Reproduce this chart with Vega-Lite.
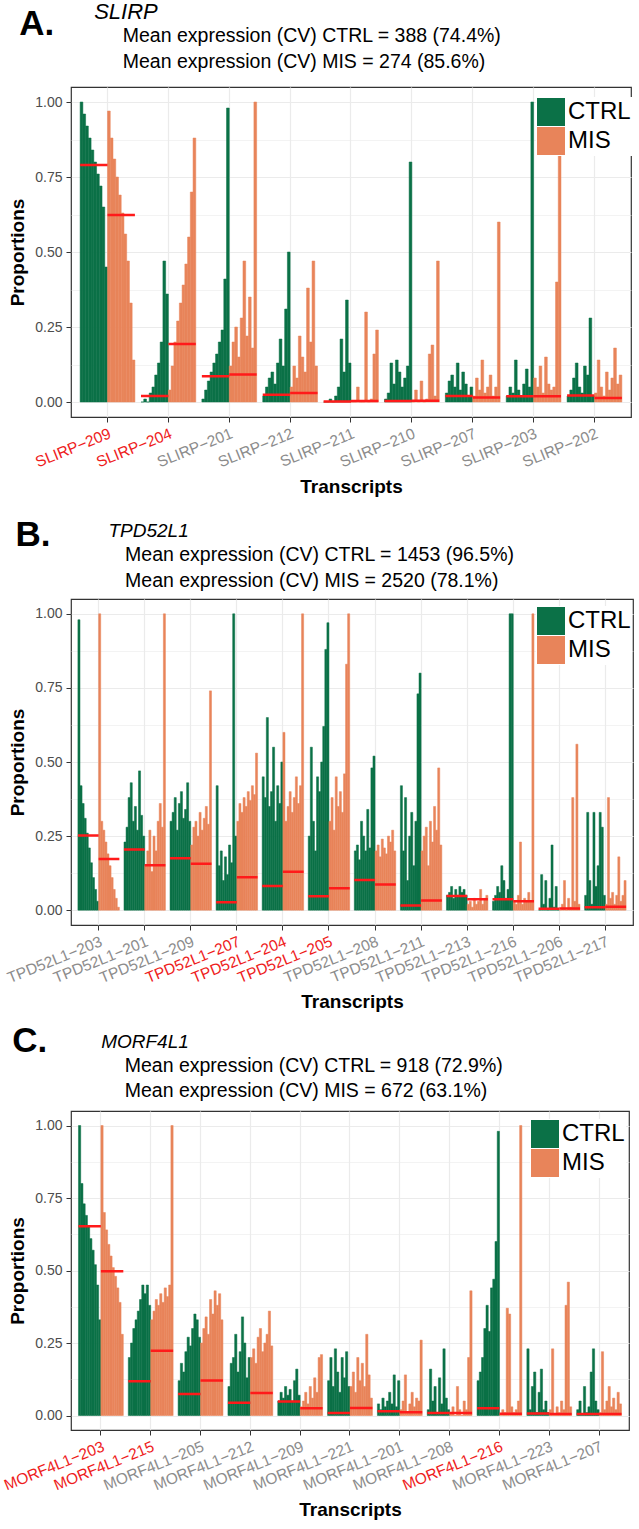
{
"$schema":"https://vega.github.io/schema/vega-lite/v6.json",
"padding":{"top":0,"left":1,"right":4,"bottom":2},
"spacing":20,
"config":{
 "font":"Liberation Sans",
 "view":{"stroke":"#333333","strokeWidth":1.2},
 "axis":{"domain":false,"tickColor":"#333333","tickSize":5,"gridColor":"#EBEBEB","gridWidth":1.2,"titleFontWeight":"bold","titleColor":"black","labelFont":"Liberation Sans","titleFont":"Liberation Sans"},
 "title":{"anchor":"start","frame":"bounds","color":"black","fontWeight":"normal","font":"Liberation Sans"},
 "legend":{"title":null,"orient":"none","symbolType":"square","symbolSize":784,"symbolStrokeWidth":0,"symbolOpacity":1,"labelFontSize":24,"labelColor":"black","labelOffset":3,"rowPadding":1,"padding":1,"fillColor":"white","labelFont":"Liberation Sans"}
},
"resolve":{"legend":{"color":"independent"}},
"datasets":{
"am":[{"t":"SLIRP-209","c":"CTRL","m":0.79},{"t":"SLIRP-209","c":"MIS","m":0.623},{"t":"SLIRP-204","c":"CTRL","m":0.02},{"t":"SLIRP-204","c":"MIS","m":0.193},{"t":"SLIRP-201","c":"CTRL","m":0.086},{"t":"SLIRP-201","c":"MIS","m":0.092},{"t":"SLIRP-212","c":"CTRL","m":0.024},{"t":"SLIRP-212","c":"MIS","m":0.03},{"t":"SLIRP-211","c":"CTRL","m":0.002},{"t":"SLIRP-211","c":"MIS","m":0.003},{"t":"SLIRP-210","c":"CTRL","m":0.003},{"t":"SLIRP-210","c":"MIS","m":0.004},{"t":"SLIRP-207","c":"CTRL","m":0.02},{"t":"SLIRP-207","c":"MIS","m":0.015},{"t":"SLIRP-203","c":"CTRL","m":0.019},{"t":"SLIRP-203","c":"MIS","m":0.019},{"t":"SLIRP-202","c":"CTRL","m":0.022},{"t":"SLIRP-202","c":"MIS","m":0.013}],
"bm":[{"t":"TPD52L1-203","c":"CTRL","m":0.252},{"t":"TPD52L1-203","c":"MIS","m":0.173},{"t":"TPD52L1-201","c":"CTRL","m":0.205},{"t":"TPD52L1-201","c":"MIS","m":0.152},{"t":"TPD52L1-209","c":"CTRL","m":0.175},{"t":"TPD52L1-209","c":"MIS","m":0.157},{"t":"TPD52L1-207","c":"CTRL","m":0.027},{"t":"TPD52L1-207","c":"MIS","m":0.111},{"t":"TPD52L1-204","c":"CTRL","m":0.082},{"t":"TPD52L1-204","c":"MIS","m":0.13},{"t":"TPD52L1-205","c":"CTRL","m":0.047},{"t":"TPD52L1-205","c":"MIS","m":0.074},{"t":"TPD52L1-208","c":"CTRL","m":0.102},{"t":"TPD52L1-208","c":"MIS","m":0.087},{"t":"TPD52L1-211","c":"CTRL","m":0.016},{"t":"TPD52L1-211","c":"MIS","m":0.033},{"t":"TPD52L1-213","c":"CTRL","m":0.048},{"t":"TPD52L1-213","c":"MIS","m":0.037},{"t":"TPD52L1-216","c":"CTRL","m":0.037},{"t":"TPD52L1-216","c":"MIS","m":0.03},{"t":"TPD52L1-206","c":"CTRL","m":0.005},{"t":"TPD52L1-206","c":"MIS","m":0.006},{"t":"TPD52L1-217","c":"CTRL","m":0.01},{"t":"TPD52L1-217","c":"MIS","m":0.012}],
"cm":[{"t":"MORF4L1-203","c":"CTRL","m":0.653},{"t":"MORF4L1-203","c":"MIS","m":0.497},{"t":"MORF4L1-215","c":"CTRL","m":0.118},{"t":"MORF4L1-215","c":"MIS","m":0.223},{"t":"MORF4L1-205","c":"CTRL","m":0.074},{"t":"MORF4L1-205","c":"MIS","m":0.121},{"t":"MORF4L1-212","c":"CTRL","m":0.044},{"t":"MORF4L1-212","c":"MIS","m":0.078},{"t":"MORF4L1-209","c":"CTRL","m":0.048},{"t":"MORF4L1-209","c":"MIS","m":0.025},{"t":"MORF4L1-221","c":"CTRL","m":0.009},{"t":"MORF4L1-221","c":"MIS","m":0.026},{"t":"MORF4L1-201","c":"CTRL","m":0.015},{"t":"MORF4L1-201","c":"MIS","m":0.011},{"t":"MORF4L1-208","c":"CTRL","m":0.009},{"t":"MORF4L1-208","c":"MIS","m":0.009},{"t":"MORF4L1-216","c":"CTRL","m":0.025},{"t":"MORF4L1-216","c":"MIS","m":0.006},{"t":"MORF4L1-223","c":"CTRL","m":0.007},{"t":"MORF4L1-223","c":"MIS","m":0.005},{"t":"MORF4L1-207","c":"CTRL","m":0.005},{"t":"MORF4L1-207","c":"MIS","m":0.005}],
"a":[
{"t":"SLIRP-209","c":"CTRL","k":1,"v":1},{"t":"SLIRP-209","c":"CTRL","k":2,"v":0.96},{"t":"SLIRP-209","c":"CTRL","k":3,"v":0.92},{"t":"SLIRP-209","c":"CTRL","k":4,"v":0.88},{"t":"SLIRP-209","c":"CTRL","k":5,"v":0.84},{"t":"SLIRP-209","c":"CTRL","k":6,"v":0.8},{"t":"SLIRP-209","c":"CTRL","k":7,"v":0.76},{"t":"SLIRP-209","c":"CTRL","k":8,"v":0.72},{"t":"SLIRP-209","c":"CTRL","k":9,"v":0.65},{"t":"SLIRP-209","c":"CTRL","k":10,"v":0.45},
{"t":"SLIRP-209","c":"MIS","k":11,"v":0.97},{"t":"SLIRP-209","c":"MIS","k":12,"v":0.88},{"t":"SLIRP-209","c":"MIS","k":13,"v":0.81},{"t":"SLIRP-209","c":"MIS","k":14,"v":0.75},{"t":"SLIRP-209","c":"MIS","k":15,"v":0.69},{"t":"SLIRP-209","c":"MIS","k":16,"v":0.63},{"t":"SLIRP-209","c":"MIS","k":17,"v":0.56},{"t":"SLIRP-209","c":"MIS","k":18,"v":0.47},{"t":"SLIRP-209","c":"MIS","k":19,"v":0.33},{"t":"SLIRP-209","c":"MIS","k":20,"v":0.14},
{"t":"SLIRP-204","c":"CTRL","k":1,"v":0},{"t":"SLIRP-204","c":"CTRL","k":2,"v":0.01},{"t":"SLIRP-204","c":"CTRL","k":3,"v":0},{"t":"SLIRP-204","c":"CTRL","k":4,"v":0.03},{"t":"SLIRP-204","c":"CTRL","k":5,"v":0.05},{"t":"SLIRP-204","c":"CTRL","k":6,"v":0.09},{"t":"SLIRP-204","c":"CTRL","k":7,"v":0.13},{"t":"SLIRP-204","c":"CTRL","k":8,"v":0.2},{"t":"SLIRP-204","c":"CTRL","k":9,"v":0.47},{"t":"SLIRP-204","c":"CTRL","k":10,"v":0.36},
{"t":"SLIRP-204","c":"MIS","k":11,"v":0.04},{"t":"SLIRP-204","c":"MIS","k":12,"v":0.12},{"t":"SLIRP-204","c":"MIS","k":13,"v":0.2},{"t":"SLIRP-204","c":"MIS","k":14,"v":0.27},{"t":"SLIRP-204","c":"MIS","k":15,"v":0.33},{"t":"SLIRP-204","c":"MIS","k":16,"v":0.39},{"t":"SLIRP-204","c":"MIS","k":17,"v":0.46},{"t":"SLIRP-204","c":"MIS","k":18,"v":0.55},{"t":"SLIRP-204","c":"MIS","k":19,"v":0.7},{"t":"SLIRP-204","c":"MIS","k":20,"v":0.88},
{"t":"SLIRP-201","c":"CTRL","k":1,"v":0.01},{"t":"SLIRP-201","c":"CTRL","k":2,"v":0.04},{"t":"SLIRP-201","c":"CTRL","k":3,"v":0.07},{"t":"SLIRP-201","c":"CTRL","k":4,"v":0.1},{"t":"SLIRP-201","c":"CTRL","k":5,"v":0.13},{"t":"SLIRP-201","c":"CTRL","k":6,"v":0.16},{"t":"SLIRP-201","c":"CTRL","k":7,"v":0.2},{"t":"SLIRP-201","c":"CTRL","k":8,"v":0.24},{"t":"SLIRP-201","c":"CTRL","k":9,"v":0.41},{"t":"SLIRP-201","c":"CTRL","k":10,"v":0.98},
{"t":"SLIRP-201","c":"MIS","k":11,"v":0.12},{"t":"SLIRP-201","c":"MIS","k":12,"v":0.2},{"t":"SLIRP-201","c":"MIS","k":13,"v":0.25},{"t":"SLIRP-201","c":"MIS","k":14,"v":0.15},{"t":"SLIRP-201","c":"MIS","k":15,"v":0.28},{"t":"SLIRP-201","c":"MIS","k":16,"v":0.47},{"t":"SLIRP-201","c":"MIS","k":17,"v":0.22},{"t":"SLIRP-201","c":"MIS","k":18,"v":0.35},{"t":"SLIRP-201","c":"MIS","k":19,"v":0.18},{"t":"SLIRP-201","c":"MIS","k":20,"v":1},
{"t":"SLIRP-212","c":"CTRL","k":1,"v":0.02},{"t":"SLIRP-212","c":"CTRL","k":2,"v":0.05},{"t":"SLIRP-212","c":"CTRL","k":3,"v":0.08},{"t":"SLIRP-212","c":"CTRL","k":4,"v":0.1},{"t":"SLIRP-212","c":"CTRL","k":5,"v":0.06},{"t":"SLIRP-212","c":"CTRL","k":6,"v":0.13},{"t":"SLIRP-212","c":"CTRL","k":7,"v":0.21},{"t":"SLIRP-212","c":"CTRL","k":8,"v":0.12},{"t":"SLIRP-212","c":"CTRL","k":9,"v":0.31},{"t":"SLIRP-212","c":"CTRL","k":10,"v":0.5},
{"t":"SLIRP-212","c":"MIS","k":11,"v":0.05},{"t":"SLIRP-212","c":"MIS","k":12,"v":0.12},{"t":"SLIRP-212","c":"MIS","k":13,"v":0.08},{"t":"SLIRP-212","c":"MIS","k":14,"v":0.22},{"t":"SLIRP-212","c":"MIS","k":15,"v":0.15},{"t":"SLIRP-212","c":"MIS","k":16,"v":0.1},{"t":"SLIRP-212","c":"MIS","k":17,"v":0.38},{"t":"SLIRP-212","c":"MIS","k":18,"v":0.2},{"t":"SLIRP-212","c":"MIS","k":19,"v":0.47},{"t":"SLIRP-212","c":"MIS","k":20,"v":0.12},
{"t":"SLIRP-211","c":"CTRL","k":1,"v":0},{"t":"SLIRP-211","c":"CTRL","k":2,"v":0},{"t":"SLIRP-211","c":"CTRL","k":3,"v":0.01},{"t":"SLIRP-211","c":"CTRL","k":4,"v":0},{"t":"SLIRP-211","c":"CTRL","k":5,"v":0.02},{"t":"SLIRP-211","c":"CTRL","k":6,"v":0.05},{"t":"SLIRP-211","c":"CTRL","k":7,"v":0.21},{"t":"SLIRP-211","c":"CTRL","k":8,"v":0.1},{"t":"SLIRP-211","c":"CTRL","k":9,"v":0.34},{"t":"SLIRP-211","c":"CTRL","k":10,"v":0.13},
{"t":"SLIRP-211","c":"MIS","k":11,"v":0},{"t":"SLIRP-211","c":"MIS","k":12,"v":0},{"t":"SLIRP-211","c":"MIS","k":13,"v":0.05},{"t":"SLIRP-211","c":"MIS","k":14,"v":0},{"t":"SLIRP-211","c":"MIS","k":15,"v":0},{"t":"SLIRP-211","c":"MIS","k":16,"v":0.3},{"t":"SLIRP-211","c":"MIS","k":17,"v":0},{"t":"SLIRP-211","c":"MIS","k":18,"v":0.01},{"t":"SLIRP-211","c":"MIS","k":19,"v":0.16},{"t":"SLIRP-211","c":"MIS","k":20,"v":0.24},
{"t":"SLIRP-210","c":"CTRL","k":1,"v":0.01},{"t":"SLIRP-210","c":"CTRL","k":2,"v":0.03},{"t":"SLIRP-210","c":"CTRL","k":3,"v":0.13},{"t":"SLIRP-210","c":"CTRL","k":4,"v":0.06},{"t":"SLIRP-210","c":"CTRL","k":5,"v":0.14},{"t":"SLIRP-210","c":"CTRL","k":6,"v":0.1},{"t":"SLIRP-210","c":"CTRL","k":7,"v":0.05},{"t":"SLIRP-210","c":"CTRL","k":8,"v":0.08},{"t":"SLIRP-210","c":"CTRL","k":9,"v":0.12},{"t":"SLIRP-210","c":"CTRL","k":10,"v":0.8},
{"t":"SLIRP-210","c":"MIS","k":11,"v":0},{"t":"SLIRP-210","c":"MIS","k":12,"v":0.04},{"t":"SLIRP-210","c":"MIS","k":13,"v":0},{"t":"SLIRP-210","c":"MIS","k":14,"v":0.07},{"t":"SLIRP-210","c":"MIS","k":15,"v":0},{"t":"SLIRP-210","c":"MIS","k":16,"v":0.01},{"t":"SLIRP-210","c":"MIS","k":17,"v":0.16},{"t":"SLIRP-210","c":"MIS","k":18,"v":0.19},{"t":"SLIRP-210","c":"MIS","k":19,"v":0.02},{"t":"SLIRP-210","c":"MIS","k":20,"v":0.47},
{"t":"SLIRP-207","c":"CTRL","k":1,"v":0.03},{"t":"SLIRP-207","c":"CTRL","k":2,"v":0.07},{"t":"SLIRP-207","c":"CTRL","k":3,"v":0.09},{"t":"SLIRP-207","c":"CTRL","k":4,"v":0.05},{"t":"SLIRP-207","c":"CTRL","k":5,"v":0.13},{"t":"SLIRP-207","c":"CTRL","k":6,"v":0.04},{"t":"SLIRP-207","c":"CTRL","k":7,"v":0.1},{"t":"SLIRP-207","c":"CTRL","k":8,"v":0.06},{"t":"SLIRP-207","c":"CTRL","k":9,"v":0.02},{"t":"SLIRP-207","c":"CTRL","k":10,"v":0.05},
{"t":"SLIRP-207","c":"MIS","k":11,"v":0.02},{"t":"SLIRP-207","c":"MIS","k":12,"v":0.08},{"t":"SLIRP-207","c":"MIS","k":13,"v":0.04},{"t":"SLIRP-207","c":"MIS","k":14,"v":0.14},{"t":"SLIRP-207","c":"MIS","k":15,"v":0.03},{"t":"SLIRP-207","c":"MIS","k":16,"v":0.05},{"t":"SLIRP-207","c":"MIS","k":17,"v":0.09},{"t":"SLIRP-207","c":"MIS","k":18,"v":0.02},{"t":"SLIRP-207","c":"MIS","k":19,"v":0.05},{"t":"SLIRP-207","c":"MIS","k":20,"v":0.6},
{"t":"SLIRP-203","c":"CTRL","k":1,"v":0.02},{"t":"SLIRP-203","c":"CTRL","k":2,"v":0.05},{"t":"SLIRP-203","c":"CTRL","k":3,"v":0.03},{"t":"SLIRP-203","c":"CTRL","k":4,"v":0.14},{"t":"SLIRP-203","c":"CTRL","k":5,"v":0.04},{"t":"SLIRP-203","c":"CTRL","k":6,"v":0.02},{"t":"SLIRP-203","c":"CTRL","k":7,"v":0.06},{"t":"SLIRP-203","c":"CTRL","k":8,"v":0.11},{"t":"SLIRP-203","c":"CTRL","k":9,"v":0.05},{"t":"SLIRP-203","c":"CTRL","k":10,"v":1},
{"t":"SLIRP-203","c":"MIS","k":11,"v":0.08},{"t":"SLIRP-203","c":"MIS","k":12,"v":0.05},{"t":"SLIRP-203","c":"MIS","k":13,"v":0.12},{"t":"SLIRP-203","c":"MIS","k":14,"v":0.03},{"t":"SLIRP-203","c":"MIS","k":15,"v":0.15},{"t":"SLIRP-203","c":"MIS","k":16,"v":0.06},{"t":"SLIRP-203","c":"MIS","k":17,"v":0.04},{"t":"SLIRP-203","c":"MIS","k":18,"v":0.05},{"t":"SLIRP-203","c":"MIS","k":19,"v":0.4},{"t":"SLIRP-203","c":"MIS","k":20,"v":0.98},
{"t":"SLIRP-202","c":"CTRL","k":1,"v":0.02},{"t":"SLIRP-202","c":"CTRL","k":2,"v":0.04},{"t":"SLIRP-202","c":"CTRL","k":3,"v":0.08},{"t":"SLIRP-202","c":"CTRL","k":4,"v":0.13},{"t":"SLIRP-202","c":"CTRL","k":5,"v":0.05},{"t":"SLIRP-202","c":"CTRL","k":6,"v":0.03},{"t":"SLIRP-202","c":"CTRL","k":7,"v":0.12},{"t":"SLIRP-202","c":"CTRL","k":8,"v":0.09},{"t":"SLIRP-202","c":"CTRL","k":9,"v":0.28},{"t":"SLIRP-202","c":"CTRL","k":10,"v":0.02},
{"t":"SLIRP-202","c":"MIS","k":11,"v":0.03},{"t":"SLIRP-202","c":"MIS","k":12,"v":0.14},{"t":"SLIRP-202","c":"MIS","k":13,"v":0.05},{"t":"SLIRP-202","c":"MIS","k":14,"v":0.02},{"t":"SLIRP-202","c":"MIS","k":15,"v":0.1},{"t":"SLIRP-202","c":"MIS","k":16,"v":0.04},{"t":"SLIRP-202","c":"MIS","k":17,"v":0.08},{"t":"SLIRP-202","c":"MIS","k":18,"v":0.18},{"t":"SLIRP-202","c":"MIS","k":19,"v":0.06},{"t":"SLIRP-202","c":"MIS","k":20,"v":0.09}
],
"b":[
{"t":"TPD52L1-203","c":"CTRL","k":1,"v":0.98},{"t":"TPD52L1-203","c":"CTRL","k":2,"v":0.42},{"t":"TPD52L1-203","c":"CTRL","k":3,"v":0.36},{"t":"TPD52L1-203","c":"CTRL","k":4,"v":0.31},{"t":"TPD52L1-203","c":"CTRL","k":5,"v":0.26},{"t":"TPD52L1-203","c":"CTRL","k":6,"v":0.21},{"t":"TPD52L1-203","c":"CTRL","k":7,"v":0.16},{"t":"TPD52L1-203","c":"CTRL","k":8,"v":0.11},{"t":"TPD52L1-203","c":"CTRL","k":9,"v":0.07},{"t":"TPD52L1-203","c":"CTRL","k":10,"v":0.03},
{"t":"TPD52L1-203","c":"MIS","k":11,"v":1},{"t":"TPD52L1-203","c":"MIS","k":12,"v":0.3},{"t":"TPD52L1-203","c":"MIS","k":13,"v":0.27},{"t":"TPD52L1-203","c":"MIS","k":14,"v":0.23},{"t":"TPD52L1-203","c":"MIS","k":15,"v":0.19},{"t":"TPD52L1-203","c":"MIS","k":16,"v":0.15},{"t":"TPD52L1-203","c":"MIS","k":17,"v":0.11},{"t":"TPD52L1-203","c":"MIS","k":18,"v":0.07},{"t":"TPD52L1-203","c":"MIS","k":19,"v":0.04},{"t":"TPD52L1-203","c":"MIS","k":20,"v":0.01},
{"t":"TPD52L1-201","c":"CTRL","k":1,"v":0.23},{"t":"TPD52L1-201","c":"CTRL","k":2,"v":0.28},{"t":"TPD52L1-201","c":"CTRL","k":3,"v":0.38},{"t":"TPD52L1-201","c":"CTRL","k":4,"v":0.43},{"t":"TPD52L1-201","c":"CTRL","k":5,"v":0.3},{"t":"TPD52L1-201","c":"CTRL","k":6,"v":0.35},{"t":"TPD52L1-201","c":"CTRL","k":7,"v":0.27},{"t":"TPD52L1-201","c":"CTRL","k":8,"v":0.47},{"t":"TPD52L1-201","c":"CTRL","k":9,"v":0.32},{"t":"TPD52L1-201","c":"CTRL","k":10,"v":0.25},
{"t":"TPD52L1-201","c":"MIS","k":11,"v":0.15},{"t":"TPD52L1-201","c":"MIS","k":12,"v":0.2},{"t":"TPD52L1-201","c":"MIS","k":13,"v":0.27},{"t":"TPD52L1-201","c":"MIS","k":14,"v":0.13},{"t":"TPD52L1-201","c":"MIS","k":15,"v":0.25},{"t":"TPD52L1-201","c":"MIS","k":16,"v":0.2},{"t":"TPD52L1-201","c":"MIS","k":17,"v":0.3},{"t":"TPD52L1-201","c":"MIS","k":18,"v":0.36},{"t":"TPD52L1-201","c":"MIS","k":19,"v":0.28},{"t":"TPD52L1-201","c":"MIS","k":20,"v":1},
{"t":"TPD52L1-209","c":"CTRL","k":1,"v":0.3},{"t":"TPD52L1-209","c":"CTRL","k":2,"v":0.33},{"t":"TPD52L1-209","c":"CTRL","k":3,"v":0.38},{"t":"TPD52L1-209","c":"CTRL","k":4,"v":0.27},{"t":"TPD52L1-209","c":"CTRL","k":5,"v":0.36},{"t":"TPD52L1-209","c":"CTRL","k":6,"v":0.4},{"t":"TPD52L1-209","c":"CTRL","k":7,"v":0.31},{"t":"TPD52L1-209","c":"CTRL","k":8,"v":0.34},{"t":"TPD52L1-209","c":"CTRL","k":9,"v":0.43},{"t":"TPD52L1-209","c":"CTRL","k":10,"v":0.3},
{"t":"TPD52L1-209","c":"MIS","k":11,"v":0.22},{"t":"TPD52L1-209","c":"MIS","k":12,"v":0.28},{"t":"TPD52L1-209","c":"MIS","k":13,"v":0.3},{"t":"TPD52L1-209","c":"MIS","k":14,"v":0.25},{"t":"TPD52L1-209","c":"MIS","k":15,"v":0.33},{"t":"TPD52L1-209","c":"MIS","k":16,"v":0.27},{"t":"TPD52L1-209","c":"MIS","k":17,"v":0.31},{"t":"TPD52L1-209","c":"MIS","k":18,"v":0.35},{"t":"TPD52L1-209","c":"MIS","k":19,"v":0.29},{"t":"TPD52L1-209","c":"MIS","k":20,"v":0.74},
{"t":"TPD52L1-207","c":"CTRL","k":1,"v":0.42},{"t":"TPD52L1-207","c":"CTRL","k":2,"v":0.15},{"t":"TPD52L1-207","c":"CTRL","k":3,"v":0.2},{"t":"TPD52L1-207","c":"CTRL","k":4,"v":0.1},{"t":"TPD52L1-207","c":"CTRL","k":5,"v":0.18},{"t":"TPD52L1-207","c":"CTRL","k":6,"v":0.12},{"t":"TPD52L1-207","c":"CTRL","k":7,"v":0.22},{"t":"TPD52L1-207","c":"CTRL","k":8,"v":0.16},{"t":"TPD52L1-207","c":"CTRL","k":9,"v":1},{"t":"TPD52L1-207","c":"CTRL","k":10,"v":0.25},
{"t":"TPD52L1-207","c":"MIS","k":11,"v":0.3},{"t":"TPD52L1-207","c":"MIS","k":12,"v":0.36},{"t":"TPD52L1-207","c":"MIS","k":13,"v":0.33},{"t":"TPD52L1-207","c":"MIS","k":14,"v":0.38},{"t":"TPD52L1-207","c":"MIS","k":15,"v":0.35},{"t":"TPD52L1-207","c":"MIS","k":16,"v":0.4},{"t":"TPD52L1-207","c":"MIS","k":17,"v":0.37},{"t":"TPD52L1-207","c":"MIS","k":18,"v":0.42},{"t":"TPD52L1-207","c":"MIS","k":19,"v":0.39},{"t":"TPD52L1-207","c":"MIS","k":20,"v":0.53},
{"t":"TPD52L1-204","c":"CTRL","k":1,"v":0.45},{"t":"TPD52L1-204","c":"CTRL","k":2,"v":0.38},{"t":"TPD52L1-204","c":"CTRL","k":3,"v":0.65},{"t":"TPD52L1-204","c":"CTRL","k":4,"v":0.35},{"t":"TPD52L1-204","c":"CTRL","k":5,"v":0.4},{"t":"TPD52L1-204","c":"CTRL","k":6,"v":0.55},{"t":"TPD52L1-204","c":"CTRL","k":7,"v":0.3},{"t":"TPD52L1-204","c":"CTRL","k":8,"v":0.42},{"t":"TPD52L1-204","c":"CTRL","k":9,"v":0.36},{"t":"TPD52L1-204","c":"CTRL","k":10,"v":0.5},
{"t":"TPD52L1-204","c":"MIS","k":11,"v":0.6},{"t":"TPD52L1-204","c":"MIS","k":12,"v":0.3},{"t":"TPD52L1-204","c":"MIS","k":13,"v":0.35},{"t":"TPD52L1-204","c":"MIS","k":14,"v":0.4},{"t":"TPD52L1-204","c":"MIS","k":15,"v":0.33},{"t":"TPD52L1-204","c":"MIS","k":16,"v":0.38},{"t":"TPD52L1-204","c":"MIS","k":17,"v":0.45},{"t":"TPD52L1-204","c":"MIS","k":18,"v":0.36},{"t":"TPD52L1-204","c":"MIS","k":19,"v":0.42},{"t":"TPD52L1-204","c":"MIS","k":20,"v":1},
{"t":"TPD52L1-205","c":"CTRL","k":1,"v":0.25},{"t":"TPD52L1-205","c":"CTRL","k":2,"v":0.55},{"t":"TPD52L1-205","c":"CTRL","k":3,"v":0.3},{"t":"TPD52L1-205","c":"CTRL","k":4,"v":0.2},{"t":"TPD52L1-205","c":"CTRL","k":5,"v":0.45},{"t":"TPD52L1-205","c":"CTRL","k":6,"v":0.4},{"t":"TPD52L1-205","c":"CTRL","k":7,"v":0.5},{"t":"TPD52L1-205","c":"CTRL","k":8,"v":0.62},{"t":"TPD52L1-205","c":"CTRL","k":9,"v":0.88},{"t":"TPD52L1-205","c":"CTRL","k":10,"v":0.97},
{"t":"TPD52L1-205","c":"MIS","k":11,"v":0.3},{"t":"TPD52L1-205","c":"MIS","k":12,"v":0.38},{"t":"TPD52L1-205","c":"MIS","k":13,"v":0.27},{"t":"TPD52L1-205","c":"MIS","k":14,"v":0.45},{"t":"TPD52L1-205","c":"MIS","k":15,"v":0.35},{"t":"TPD52L1-205","c":"MIS","k":16,"v":0.4},{"t":"TPD52L1-205","c":"MIS","k":17,"v":0.33},{"t":"TPD52L1-205","c":"MIS","k":18,"v":0.46},{"t":"TPD52L1-205","c":"MIS","k":19,"v":0.83},{"t":"TPD52L1-205","c":"MIS","k":20,"v":1},
{"t":"TPD52L1-208","c":"CTRL","k":1,"v":0.2},{"t":"TPD52L1-208","c":"CTRL","k":2,"v":0.22},{"t":"TPD52L1-208","c":"CTRL","k":3,"v":0.17},{"t":"TPD52L1-208","c":"CTRL","k":4,"v":0.3},{"t":"TPD52L1-208","c":"CTRL","k":5,"v":0.25},{"t":"TPD52L1-208","c":"CTRL","k":6,"v":0.2},{"t":"TPD52L1-208","c":"CTRL","k":7,"v":0.34},{"t":"TPD52L1-208","c":"CTRL","k":8,"v":0.21},{"t":"TPD52L1-208","c":"CTRL","k":9,"v":0.48},{"t":"TPD52L1-208","c":"CTRL","k":10,"v":0.52},
{"t":"TPD52L1-208","c":"MIS","k":11,"v":0.2},{"t":"TPD52L1-208","c":"MIS","k":12,"v":0.22},{"t":"TPD52L1-208","c":"MIS","k":13,"v":0.18},{"t":"TPD52L1-208","c":"MIS","k":14,"v":0.24},{"t":"TPD52L1-208","c":"MIS","k":15,"v":0.21},{"t":"TPD52L1-208","c":"MIS","k":16,"v":0.19},{"t":"TPD52L1-208","c":"MIS","k":17,"v":0.25},{"t":"TPD52L1-208","c":"MIS","k":18,"v":0.23},{"t":"TPD52L1-208","c":"MIS","k":19,"v":0.27},{"t":"TPD52L1-208","c":"MIS","k":20,"v":0.2},
{"t":"TPD52L1-211","c":"CTRL","k":1,"v":0.42},{"t":"TPD52L1-211","c":"CTRL","k":2,"v":0.2},{"t":"TPD52L1-211","c":"CTRL","k":3,"v":0.38},{"t":"TPD52L1-211","c":"CTRL","k":4,"v":0.1},{"t":"TPD52L1-211","c":"CTRL","k":5,"v":0.25},{"t":"TPD52L1-211","c":"CTRL","k":6,"v":0.33},{"t":"TPD52L1-211","c":"CTRL","k":7,"v":0.15},{"t":"TPD52L1-211","c":"CTRL","k":8,"v":0.3},{"t":"TPD52L1-211","c":"CTRL","k":9,"v":0.73},{"t":"TPD52L1-211","c":"CTRL","k":10,"v":0.8},
{"t":"TPD52L1-211","c":"MIS","k":11,"v":0.2},{"t":"TPD52L1-211","c":"MIS","k":12,"v":0.25},{"t":"TPD52L1-211","c":"MIS","k":13,"v":0.28},{"t":"TPD52L1-211","c":"MIS","k":14,"v":0.15},{"t":"TPD52L1-211","c":"MIS","k":15,"v":0.3},{"t":"TPD52L1-211","c":"MIS","k":16,"v":0.23},{"t":"TPD52L1-211","c":"MIS","k":17,"v":0.35},{"t":"TPD52L1-211","c":"MIS","k":18,"v":0.27},{"t":"TPD52L1-211","c":"MIS","k":19,"v":0.48},{"t":"TPD52L1-211","c":"MIS","k":20,"v":0.22},
{"t":"TPD52L1-213","c":"CTRL","k":1,"v":0.05},{"t":"TPD52L1-213","c":"CTRL","k":2,"v":0.06},{"t":"TPD52L1-213","c":"CTRL","k":3,"v":0.08},{"t":"TPD52L1-213","c":"CTRL","k":4,"v":0.04},{"t":"TPD52L1-213","c":"CTRL","k":5,"v":0.07},{"t":"TPD52L1-213","c":"CTRL","k":6,"v":0.05},{"t":"TPD52L1-213","c":"CTRL","k":7,"v":0.08},{"t":"TPD52L1-213","c":"CTRL","k":8,"v":0.06},{"t":"TPD52L1-213","c":"CTRL","k":9,"v":0.07},{"t":"TPD52L1-213","c":"CTRL","k":10,"v":0.05},
{"t":"TPD52L1-213","c":"MIS","k":11,"v":0.02},{"t":"TPD52L1-213","c":"MIS","k":12,"v":0.03},{"t":"TPD52L1-213","c":"MIS","k":13,"v":0.01},{"t":"TPD52L1-213","c":"MIS","k":14,"v":0.04},{"t":"TPD52L1-213","c":"MIS","k":15,"v":0.02},{"t":"TPD52L1-213","c":"MIS","k":16,"v":0.03},{"t":"TPD52L1-213","c":"MIS","k":17,"v":0.07},{"t":"TPD52L1-213","c":"MIS","k":18,"v":0.02},{"t":"TPD52L1-213","c":"MIS","k":19,"v":0.04},{"t":"TPD52L1-213","c":"MIS","k":20,"v":0.05},
{"t":"TPD52L1-216","c":"CTRL","k":1,"v":0.03},{"t":"TPD52L1-216","c":"CTRL","k":2,"v":0.05},{"t":"TPD52L1-216","c":"CTRL","k":3,"v":0.08},{"t":"TPD52L1-216","c":"CTRL","k":4,"v":0.06},{"t":"TPD52L1-216","c":"CTRL","k":5,"v":0.15},{"t":"TPD52L1-216","c":"CTRL","k":6,"v":0.1},{"t":"TPD52L1-216","c":"CTRL","k":7,"v":0.04},{"t":"TPD52L1-216","c":"CTRL","k":8,"v":0.07},{"t":"TPD52L1-216","c":"CTRL","k":9,"v":1},{"t":"TPD52L1-216","c":"CTRL","k":10,"v":1},
{"t":"TPD52L1-216","c":"MIS","k":11,"v":0.03},{"t":"TPD52L1-216","c":"MIS","k":12,"v":0.02},{"t":"TPD52L1-216","c":"MIS","k":13,"v":0.05},{"t":"TPD52L1-216","c":"MIS","k":14,"v":0.23},{"t":"TPD52L1-216","c":"MIS","k":15,"v":0.02},{"t":"TPD52L1-216","c":"MIS","k":16,"v":0.04},{"t":"TPD52L1-216","c":"MIS","k":17,"v":0.03},{"t":"TPD52L1-216","c":"MIS","k":18,"v":0.06},{"t":"TPD52L1-216","c":"MIS","k":19,"v":0.03},{"t":"TPD52L1-216","c":"MIS","k":20,"v":1},
{"t":"TPD52L1-206","c":"CTRL","k":1,"v":0},{"t":"TPD52L1-206","c":"CTRL","k":2,"v":0.12},{"t":"TPD52L1-206","c":"CTRL","k":3,"v":0.02},{"t":"TPD52L1-206","c":"CTRL","k":4,"v":0.1},{"t":"TPD52L1-206","c":"CTRL","k":5,"v":0},{"t":"TPD52L1-206","c":"CTRL","k":6,"v":0.04},{"t":"TPD52L1-206","c":"CTRL","k":7,"v":0.22},{"t":"TPD52L1-206","c":"CTRL","k":8,"v":0.01},{"t":"TPD52L1-206","c":"CTRL","k":9,"v":0.08},{"t":"TPD52L1-206","c":"CTRL","k":10,"v":0},
{"t":"TPD52L1-206","c":"MIS","k":11,"v":0},{"t":"TPD52L1-206","c":"MIS","k":12,"v":0.02},{"t":"TPD52L1-206","c":"MIS","k":13,"v":0.1},{"t":"TPD52L1-206","c":"MIS","k":14,"v":0},{"t":"TPD52L1-206","c":"MIS","k":15,"v":0.04},{"t":"TPD52L1-206","c":"MIS","k":16,"v":0.01},{"t":"TPD52L1-206","c":"MIS","k":17,"v":0.38},{"t":"TPD52L1-206","c":"MIS","k":18,"v":0.03},{"t":"TPD52L1-206","c":"MIS","k":19,"v":0.56},{"t":"TPD52L1-206","c":"MIS","k":20,"v":0.02},
{"t":"TPD52L1-217","c":"CTRL","k":1,"v":0.05},{"t":"TPD52L1-217","c":"CTRL","k":2,"v":0.33},{"t":"TPD52L1-217","c":"CTRL","k":3,"v":0.1},{"t":"TPD52L1-217","c":"CTRL","k":4,"v":0.02},{"t":"TPD52L1-217","c":"CTRL","k":5,"v":0.33},{"t":"TPD52L1-217","c":"CTRL","k":6,"v":0.08},{"t":"TPD52L1-217","c":"CTRL","k":7,"v":0.15},{"t":"TPD52L1-217","c":"CTRL","k":8,"v":0.33},{"t":"TPD52L1-217","c":"CTRL","k":9,"v":0.28},{"t":"TPD52L1-217","c":"CTRL","k":10,"v":0.05},
{"t":"TPD52L1-217","c":"MIS","k":11,"v":0.02},{"t":"TPD52L1-217","c":"MIS","k":12,"v":0.38},{"t":"TPD52L1-217","c":"MIS","k":13,"v":0.04},{"t":"TPD52L1-217","c":"MIS","k":14,"v":0.06},{"t":"TPD52L1-217","c":"MIS","k":15,"v":0.02},{"t":"TPD52L1-217","c":"MIS","k":16,"v":0.05},{"t":"TPD52L1-217","c":"MIS","k":17,"v":0.18},{"t":"TPD52L1-217","c":"MIS","k":18,"v":0.03},{"t":"TPD52L1-217","c":"MIS","k":19,"v":0.05},{"t":"TPD52L1-217","c":"MIS","k":20,"v":0.1}
],
"c":[
{"t":"MORF4L1-203","c":"CTRL","k":1,"v":1},{"t":"MORF4L1-203","c":"CTRL","k":2,"v":0.8},{"t":"MORF4L1-203","c":"CTRL","k":3,"v":0.73},{"t":"MORF4L1-203","c":"CTRL","k":4,"v":0.69},{"t":"MORF4L1-203","c":"CTRL","k":5,"v":0.65},{"t":"MORF4L1-203","c":"CTRL","k":6,"v":0.61},{"t":"MORF4L1-203","c":"CTRL","k":7,"v":0.57},{"t":"MORF4L1-203","c":"CTRL","k":8,"v":0.52},{"t":"MORF4L1-203","c":"CTRL","k":9,"v":0.45},{"t":"MORF4L1-203","c":"CTRL","k":10,"v":0.33},
{"t":"MORF4L1-203","c":"MIS","k":11,"v":1},{"t":"MORF4L1-203","c":"MIS","k":12,"v":0.7},{"t":"MORF4L1-203","c":"MIS","k":13,"v":0.64},{"t":"MORF4L1-203","c":"MIS","k":14,"v":0.59},{"t":"MORF4L1-203","c":"MIS","k":15,"v":0.55},{"t":"MORF4L1-203","c":"MIS","k":16,"v":0.51},{"t":"MORF4L1-203","c":"MIS","k":17,"v":0.48},{"t":"MORF4L1-203","c":"MIS","k":18,"v":0.44},{"t":"MORF4L1-203","c":"MIS","k":19,"v":0.39},{"t":"MORF4L1-203","c":"MIS","k":20,"v":0.28},
{"t":"MORF4L1-215","c":"CTRL","k":1,"v":0.2},{"t":"MORF4L1-215","c":"CTRL","k":2,"v":0.25},{"t":"MORF4L1-215","c":"CTRL","k":3,"v":0.3},{"t":"MORF4L1-215","c":"CTRL","k":4,"v":0.33},{"t":"MORF4L1-215","c":"CTRL","k":5,"v":0.36},{"t":"MORF4L1-215","c":"CTRL","k":6,"v":0.4},{"t":"MORF4L1-215","c":"CTRL","k":7,"v":0.45},{"t":"MORF4L1-215","c":"CTRL","k":8,"v":0.42},{"t":"MORF4L1-215","c":"CTRL","k":9,"v":0.45},{"t":"MORF4L1-215","c":"CTRL","k":10,"v":0.38},
{"t":"MORF4L1-215","c":"MIS","k":11,"v":0.33},{"t":"MORF4L1-215","c":"MIS","k":12,"v":0.36},{"t":"MORF4L1-215","c":"MIS","k":13,"v":0.4},{"t":"MORF4L1-215","c":"MIS","k":14,"v":0.38},{"t":"MORF4L1-215","c":"MIS","k":15,"v":0.42},{"t":"MORF4L1-215","c":"MIS","k":16,"v":0.39},{"t":"MORF4L1-215","c":"MIS","k":17,"v":0.44},{"t":"MORF4L1-215","c":"MIS","k":18,"v":0.41},{"t":"MORF4L1-215","c":"MIS","k":19,"v":0.45},{"t":"MORF4L1-215","c":"MIS","k":20,"v":1},
{"t":"MORF4L1-205","c":"CTRL","k":1,"v":0.12},{"t":"MORF4L1-205","c":"CTRL","k":2,"v":0.18},{"t":"MORF4L1-205","c":"CTRL","k":3,"v":0.15},{"t":"MORF4L1-205","c":"CTRL","k":4,"v":0.22},{"t":"MORF4L1-205","c":"CTRL","k":5,"v":0.27},{"t":"MORF4L1-205","c":"CTRL","k":6,"v":0.24},{"t":"MORF4L1-205","c":"CTRL","k":7,"v":0.3},{"t":"MORF4L1-205","c":"CTRL","k":8,"v":0.35},{"t":"MORF4L1-205","c":"CTRL","k":9,"v":0.33},{"t":"MORF4L1-205","c":"CTRL","k":10,"v":0.27},
{"t":"MORF4L1-205","c":"MIS","k":11,"v":0.25},{"t":"MORF4L1-205","c":"MIS","k":12,"v":0.3},{"t":"MORF4L1-205","c":"MIS","k":13,"v":0.34},{"t":"MORF4L1-205","c":"MIS","k":14,"v":0.28},{"t":"MORF4L1-205","c":"MIS","k":15,"v":0.4},{"t":"MORF4L1-205","c":"MIS","k":16,"v":0.35},{"t":"MORF4L1-205","c":"MIS","k":17,"v":0.43},{"t":"MORF4L1-205","c":"MIS","k":18,"v":0.38},{"t":"MORF4L1-205","c":"MIS","k":19,"v":0.42},{"t":"MORF4L1-205","c":"MIS","k":20,"v":0.33},
{"t":"MORF4L1-212","c":"CTRL","k":1,"v":0.1},{"t":"MORF4L1-212","c":"CTRL","k":2,"v":0.18},{"t":"MORF4L1-212","c":"CTRL","k":3,"v":0.2},{"t":"MORF4L1-212","c":"CTRL","k":4,"v":0.28},{"t":"MORF4L1-212","c":"CTRL","k":5,"v":0.15},{"t":"MORF4L1-212","c":"CTRL","k":6,"v":0.22},{"t":"MORF4L1-212","c":"CTRL","k":7,"v":0.34},{"t":"MORF4L1-212","c":"CTRL","k":8,"v":0.25},{"t":"MORF4L1-212","c":"CTRL","k":9,"v":0.13},{"t":"MORF4L1-212","c":"CTRL","k":10,"v":0.2},
{"t":"MORF4L1-212","c":"MIS","k":11,"v":0.2},{"t":"MORF4L1-212","c":"MIS","k":12,"v":0.23},{"t":"MORF4L1-212","c":"MIS","k":13,"v":0.18},{"t":"MORF4L1-212","c":"MIS","k":14,"v":0.27},{"t":"MORF4L1-212","c":"MIS","k":15,"v":0.3},{"t":"MORF4L1-212","c":"MIS","k":16,"v":0.22},{"t":"MORF4L1-212","c":"MIS","k":17,"v":0.25},{"t":"MORF4L1-212","c":"MIS","k":18,"v":0.28},{"t":"MORF4L1-212","c":"MIS","k":19,"v":0.36},{"t":"MORF4L1-212","c":"MIS","k":20,"v":0.24},
{"t":"MORF4L1-209","c":"CTRL","k":1,"v":0.05},{"t":"MORF4L1-209","c":"CTRL","k":2,"v":0.08},{"t":"MORF4L1-209","c":"CTRL","k":3,"v":0.06},{"t":"MORF4L1-209","c":"CTRL","k":4,"v":0.1},{"t":"MORF4L1-209","c":"CTRL","k":5,"v":0.07},{"t":"MORF4L1-209","c":"CTRL","k":6,"v":0.09},{"t":"MORF4L1-209","c":"CTRL","k":7,"v":0.05},{"t":"MORF4L1-209","c":"CTRL","k":8,"v":0.12},{"t":"MORF4L1-209","c":"CTRL","k":9,"v":0.16},{"t":"MORF4L1-209","c":"CTRL","k":10,"v":0.07},
{"t":"MORF4L1-209","c":"MIS","k":11,"v":0.03},{"t":"MORF4L1-209","c":"MIS","k":12,"v":0.05},{"t":"MORF4L1-209","c":"MIS","k":13,"v":0.08},{"t":"MORF4L1-209","c":"MIS","k":14,"v":0.04},{"t":"MORF4L1-209","c":"MIS","k":15,"v":0.1},{"t":"MORF4L1-209","c":"MIS","k":16,"v":0.06},{"t":"MORF4L1-209","c":"MIS","k":17,"v":0.13},{"t":"MORF4L1-209","c":"MIS","k":18,"v":0.08},{"t":"MORF4L1-209","c":"MIS","k":19,"v":0.2},{"t":"MORF4L1-209","c":"MIS","k":20,"v":0.21},
{"t":"MORF4L1-221","c":"CTRL","k":1,"v":0.12},{"t":"MORF4L1-221","c":"CTRL","k":2,"v":0.2},{"t":"MORF4L1-221","c":"CTRL","k":3,"v":0.1},{"t":"MORF4L1-221","c":"CTRL","k":4,"v":0.23},{"t":"MORF4L1-221","c":"CTRL","k":5,"v":0.15},{"t":"MORF4L1-221","c":"CTRL","k":6,"v":0.08},{"t":"MORF4L1-221","c":"CTRL","k":7,"v":0.2},{"t":"MORF4L1-221","c":"CTRL","k":8,"v":0.13},{"t":"MORF4L1-221","c":"CTRL","k":9,"v":0.22},{"t":"MORF4L1-221","c":"CTRL","k":10,"v":0.1},
{"t":"MORF4L1-221","c":"MIS","k":11,"v":0.1},{"t":"MORF4L1-221","c":"MIS","k":12,"v":0.15},{"t":"MORF4L1-221","c":"MIS","k":13,"v":0.08},{"t":"MORF4L1-221","c":"MIS","k":14,"v":0.2},{"t":"MORF4L1-221","c":"MIS","k":15,"v":0.12},{"t":"MORF4L1-221","c":"MIS","k":16,"v":0.18},{"t":"MORF4L1-221","c":"MIS","k":17,"v":0.1},{"t":"MORF4L1-221","c":"MIS","k":18,"v":0.28},{"t":"MORF4L1-221","c":"MIS","k":19,"v":0.14},{"t":"MORF4L1-221","c":"MIS","k":20,"v":0.06},
{"t":"MORF4L1-201","c":"CTRL","k":1,"v":0.04},{"t":"MORF4L1-201","c":"CTRL","k":2,"v":0.02},{"t":"MORF4L1-201","c":"CTRL","k":3,"v":0.06},{"t":"MORF4L1-201","c":"CTRL","k":4,"v":0.03},{"t":"MORF4L1-201","c":"CTRL","k":5,"v":0.05},{"t":"MORF4L1-201","c":"CTRL","k":6,"v":0.08},{"t":"MORF4L1-201","c":"CTRL","k":7,"v":0.04},{"t":"MORF4L1-201","c":"CTRL","k":8,"v":0.14},{"t":"MORF4L1-201","c":"CTRL","k":9,"v":0.03},{"t":"MORF4L1-201","c":"CTRL","k":10,"v":0.12},
{"t":"MORF4L1-201","c":"MIS","k":11,"v":0.02},{"t":"MORF4L1-201","c":"MIS","k":12,"v":0.05},{"t":"MORF4L1-201","c":"MIS","k":13,"v":0.14},{"t":"MORF4L1-201","c":"MIS","k":14,"v":0.01},{"t":"MORF4L1-201","c":"MIS","k":15,"v":0.04},{"t":"MORF4L1-201","c":"MIS","k":16,"v":0.08},{"t":"MORF4L1-201","c":"MIS","k":17,"v":0.03},{"t":"MORF4L1-201","c":"MIS","k":18,"v":0.06},{"t":"MORF4L1-201","c":"MIS","k":19,"v":0.05},{"t":"MORF4L1-201","c":"MIS","k":20,"v":0.26},
{"t":"MORF4L1-208","c":"CTRL","k":1,"v":0.02},{"t":"MORF4L1-208","c":"CTRL","k":2,"v":0.16},{"t":"MORF4L1-208","c":"CTRL","k":3,"v":0.05},{"t":"MORF4L1-208","c":"CTRL","k":4,"v":0.1},{"t":"MORF4L1-208","c":"CTRL","k":5,"v":0.01},{"t":"MORF4L1-208","c":"CTRL","k":6,"v":0.13},{"t":"MORF4L1-208","c":"CTRL","k":7,"v":0.04},{"t":"MORF4L1-208","c":"CTRL","k":8,"v":0.23},{"t":"MORF4L1-208","c":"CTRL","k":9,"v":0.06},{"t":"MORF4L1-208","c":"CTRL","k":10,"v":0.02},
{"t":"MORF4L1-208","c":"MIS","k":11,"v":0.01},{"t":"MORF4L1-208","c":"MIS","k":12,"v":0.03},{"t":"MORF4L1-208","c":"MIS","k":13,"v":0},{"t":"MORF4L1-208","c":"MIS","k":14,"v":0.1},{"t":"MORF4L1-208","c":"MIS","k":15,"v":0.02},{"t":"MORF4L1-208","c":"MIS","k":16,"v":0},{"t":"MORF4L1-208","c":"MIS","k":17,"v":0.05},{"t":"MORF4L1-208","c":"MIS","k":18,"v":0.02},{"t":"MORF4L1-208","c":"MIS","k":19,"v":0.2},{"t":"MORF4L1-208","c":"MIS","k":20,"v":0.43},
{"t":"MORF4L1-216","c":"CTRL","k":1,"v":0.12},{"t":"MORF4L1-216","c":"CTRL","k":2,"v":0.15},{"t":"MORF4L1-216","c":"CTRL","k":3,"v":0.2},{"t":"MORF4L1-216","c":"CTRL","k":4,"v":0.3},{"t":"MORF4L1-216","c":"CTRL","k":5,"v":0.38},{"t":"MORF4L1-216","c":"CTRL","k":6,"v":0.29},{"t":"MORF4L1-216","c":"CTRL","k":7,"v":0.44},{"t":"MORF4L1-216","c":"CTRL","k":8,"v":0.47},{"t":"MORF4L1-216","c":"CTRL","k":9,"v":0.6},{"t":"MORF4L1-216","c":"CTRL","k":10,"v":0.98},
{"t":"MORF4L1-216","c":"MIS","k":11,"v":0},{"t":"MORF4L1-216","c":"MIS","k":12,"v":0.02},{"t":"MORF4L1-216","c":"MIS","k":13,"v":0.01},{"t":"MORF4L1-216","c":"MIS","k":14,"v":0.37},{"t":"MORF4L1-216","c":"MIS","k":15,"v":0.35},{"t":"MORF4L1-216","c":"MIS","k":16,"v":0.03},{"t":"MORF4L1-216","c":"MIS","k":17,"v":0.01},{"t":"MORF4L1-216","c":"MIS","k":18,"v":0.02},{"t":"MORF4L1-216","c":"MIS","k":19,"v":0.05},{"t":"MORF4L1-216","c":"MIS","k":20,"v":1},
{"t":"MORF4L1-223","c":"CTRL","k":1,"v":0.23},{"t":"MORF4L1-223","c":"CTRL","k":2,"v":0.02},{"t":"MORF4L1-223","c":"CTRL","k":3,"v":0.1},{"t":"MORF4L1-223","c":"CTRL","k":4,"v":0.15},{"t":"MORF4L1-223","c":"CTRL","k":5,"v":0.01},{"t":"MORF4L1-223","c":"CTRL","k":6,"v":0.08},{"t":"MORF4L1-223","c":"CTRL","k":7,"v":0.16},{"t":"MORF4L1-223","c":"CTRL","k":8,"v":0.02},{"t":"MORF4L1-223","c":"CTRL","k":9,"v":0.05},{"t":"MORF4L1-223","c":"CTRL","k":10,"v":0.01},
{"t":"MORF4L1-223","c":"MIS","k":11,"v":0.02},{"t":"MORF4L1-223","c":"MIS","k":12,"v":0.23},{"t":"MORF4L1-223","c":"MIS","k":13,"v":0},{"t":"MORF4L1-223","c":"MIS","k":14,"v":0.03},{"t":"MORF4L1-223","c":"MIS","k":15,"v":0.01},{"t":"MORF4L1-223","c":"MIS","k":16,"v":0.05},{"t":"MORF4L1-223","c":"MIS","k":17,"v":0.02},{"t":"MORF4L1-223","c":"MIS","k":18,"v":0.38},{"t":"MORF4L1-223","c":"MIS","k":19,"v":0.46},{"t":"MORF4L1-223","c":"MIS","k":20,"v":0.03},
{"t":"MORF4L1-207","c":"CTRL","k":1,"v":0.02},{"t":"MORF4L1-207","c":"CTRL","k":2,"v":0.05},{"t":"MORF4L1-207","c":"CTRL","k":3,"v":0},{"t":"MORF4L1-207","c":"CTRL","k":4,"v":0.1},{"t":"MORF4L1-207","c":"CTRL","k":5,"v":0.01},{"t":"MORF4L1-207","c":"CTRL","k":6,"v":0.03},{"t":"MORF4L1-207","c":"CTRL","k":7,"v":0.15},{"t":"MORF4L1-207","c":"CTRL","k":8,"v":0.23},{"t":"MORF4L1-207","c":"CTRL","k":9,"v":0.05},{"t":"MORF4L1-207","c":"CTRL","k":10,"v":0.02},
{"t":"MORF4L1-207","c":"MIS","k":11,"v":0.01},{"t":"MORF4L1-207","c":"MIS","k":12,"v":0.22},{"t":"MORF4L1-207","c":"MIS","k":13,"v":0.02},{"t":"MORF4L1-207","c":"MIS","k":14,"v":0.05},{"t":"MORF4L1-207","c":"MIS","k":15,"v":0.1},{"t":"MORF4L1-207","c":"MIS","k":16,"v":0.03},{"t":"MORF4L1-207","c":"MIS","k":17,"v":0.06},{"t":"MORF4L1-207","c":"MIS","k":18,"v":0.02},{"t":"MORF4L1-207","c":"MIS","k":19,"v":0.08},{"t":"MORF4L1-207","c":"MIS","k":20,"v":0.04}
]
},
"vconcat":[
{"title":{"text":"A.","fontSize":35,"fontWeight":"bold","dx":11,"offset":-41},
 "resolve":{"legend":{"color":"independent"}},
 "vconcat":[{"title":{"text":"SLIRP","fontSize":22,"fontStyle":"italic","dx":86,"offset":1},
  "resolve":{"legend":{"color":"independent"}},
  "vconcat":[{
   "width":560,"height":330,
   "title":{"text":["Mean expression (CV) CTRL = 388 (74.4%)","Mean expression (CV) MIS = 274 (85.6%)"],"fontSize":19.5,"lineHeight":26,"dx":114,"offset":15},
   "resolve":{"scale":{"xOffset":"independent"},"axis":{"y":"independent"}},
   "layer":[
    {"data":{"name":"a"},"mark":{"type":"bar","strokeWidth":0.5},
     "encoding":{
      "x":{"field":"t","type":"nominal","title":"Transcripts","sort":["SLIRP-209","SLIRP-204","SLIRP-201","SLIRP-212","SLIRP-211","SLIRP-210","SLIRP-207","SLIRP-203","SLIRP-202"],"scale":{"paddingInner":0.1,"paddingOuter":0.15,"round":false},
       "axis":{"labelAngle":-22,"labelAlign":"right","labelBaseline":"top","labelFontSize":15.5,"labelPadding":4,"labelOverlap":false,"labelBound":false,"labelExpr":"replace(datum.label, '-', '−')","labelColor":{"condition":{"test":"indexof(['SLIRP-209','SLIRP-204'], datum.value) >= 0","value":"#EE1C1C"},"value":"#8C8C8C"},"grid":true,"bandPosition":0.5,"titleFontSize":19,"titlePadding":7}},
      "xOffset":{"field":"k","type":"ordinal","scale":{"paddingInner":0,"paddingOuter":0,"round":false}},
      "y":{"field":"v","type":"quantitative","title":"Proportions","scale":{"domain":[-0.05,1.05],"nice":false},"axis":{"values":[0,0.25,0.5,0.75,1],"format":".2f","labelFontSize":14,"labelColor":"#4D4D4D","labelPadding":4,"grid":true,"titleFontSize":19,"titlePadding":7}},
      "color":{"field":"c","type":"nominal","scale":{"domain":["CTRL","MIS"],"range":["#0B7147","#E8845A"]},"legend":{"legendX":465,"legendY":10}},
      "stroke":{"field":"c","type":"nominal","scale":{"domain":["CTRL","MIS"],"range":["#0B7147","#E8845A"]},"legend":null}
     }},
    {"data":{"name":"am"},"mark":{"type":"bar","fill":"transparent","stroke":"#FF1A1A","strokeWidth":2.5},
     "encoding":{
      "x":{"field":"t","type":"nominal","title":"Transcripts","sort":["SLIRP-209","SLIRP-204","SLIRP-201","SLIRP-212","SLIRP-211","SLIRP-210","SLIRP-207","SLIRP-203","SLIRP-202"]},
      "xOffset":{"field":"c","type":"nominal","sort":["CTRL","MIS"],"scale":{"paddingInner":0,"paddingOuter":0,"round":false}},
      "y":{"field":"m","type":"quantitative","axis":{"orient":"right","values":[0.125,0.375,0.625,0.875],"grid":true,"gridWidth":0.6,"labels":false,"ticks":false,"domain":false,"title":null}},
      "y2":{"field":"m"}
     }}
   ]
  }]
 }]
},
{"spacing":10,
 "resolve":{"legend":{"color":"independent"}},
 "vconcat":[
{"title":{"text":"B.","fontSize":35,"fontWeight":"bold","dx":11,"offset":-31},
 "resolve":{"legend":{"color":"independent"}},
 "vconcat":[{"title":{"text":"TPD52L1","fontSize":19,"fontStyle":"italic","dx":104,"offset":3},
  "resolve":{"legend":{"color":"independent"}},
  "vconcat":[{
   "width":562,"height":326,
   "title":{"text":["Mean expression (CV) CTRL = 1453 (96.5%)","Mean expression (CV) MIS = 2520 (78.1%)"],"fontSize":19.5,"lineHeight":26,"dx":120,"offset":8},
   "resolve":{"scale":{"xOffset":"independent"},"axis":{"y":"independent"}},
   "layer":[
    {"data":{"name":"b"},"mark":{"type":"bar","strokeWidth":0.5},
     "encoding":{
      "x":{"field":"t","type":"nominal","title":"Transcripts","sort":["TPD52L1-203","TPD52L1-201","TPD52L1-209","TPD52L1-207","TPD52L1-204","TPD52L1-205","TPD52L1-208","TPD52L1-211","TPD52L1-213","TPD52L1-216","TPD52L1-206","TPD52L1-217"],"scale":{"paddingInner":0.1,"paddingOuter":0.15,"round":false},
       "axis":{"labelAngle":-22,"labelAlign":"right","labelBaseline":"top","labelFontSize":15.5,"labelPadding":4,"labelOverlap":false,"labelBound":false,"labelExpr":"replace(datum.label, '-', '−')","labelColor":{"condition":{"test":"indexof(['TPD52L1-207','TPD52L1-204','TPD52L1-205'], datum.value) >= 0","value":"#EE1C1C"},"value":"#8C8C8C"},"grid":true,"bandPosition":0.5,"titleFontSize":19,"titlePadding":7}},
      "xOffset":{"field":"k","type":"ordinal","scale":{"paddingInner":0,"paddingOuter":0,"round":false}},
      "y":{"field":"v","type":"quantitative","title":"Proportions","scale":{"domain":[-0.05,1.05],"nice":false},"axis":{"values":[0,0.25,0.5,0.75,1],"format":".2f","labelFontSize":14,"labelColor":"#4D4D4D","labelPadding":4,"grid":true,"titleFontSize":19,"titlePadding":7}},
      "color":{"field":"c","type":"nominal","scale":{"domain":["CTRL","MIS"],"range":["#0B7147","#E8845A"]},"legend":{"legendX":465,"legendY":7}},
      "stroke":{"field":"c","type":"nominal","scale":{"domain":["CTRL","MIS"],"range":["#0B7147","#E8845A"]},"legend":null}
     }},
    {"data":{"name":"bm"},"mark":{"type":"bar","fill":"transparent","stroke":"#FF1A1A","strokeWidth":2.5},
     "encoding":{
      "x":{"field":"t","type":"nominal","title":"Transcripts","sort":["TPD52L1-203","TPD52L1-201","TPD52L1-209","TPD52L1-207","TPD52L1-204","TPD52L1-205","TPD52L1-208","TPD52L1-211","TPD52L1-213","TPD52L1-216","TPD52L1-206","TPD52L1-217"]},
      "xOffset":{"field":"c","type":"nominal","sort":["CTRL","MIS"],"scale":{"paddingInner":0,"paddingOuter":0,"round":false}},
      "y":{"field":"m","type":"quantitative","axis":{"orient":"right","values":[0.125,0.375,0.625,0.875],"grid":true,"gridWidth":0.6,"labels":false,"ticks":false,"domain":false,"title":null}},
      "y2":{"field":"m"}
     }}
   ]
  }]
 }]
},
{"title":{"text":"C.","fontSize":35,"fontWeight":"bold","dx":11,"offset":-26},
 "resolve":{"legend":{"color":"independent"}},
 "vconcat":[{"title":{"text":"MORF4L1","fontSize":19,"fontStyle":"italic","dx":100,"offset":3},
  "resolve":{"legend":{"color":"independent"}},
  "vconcat":[{
   "width":558,"height":319,
   "title":{"text":["Mean expression (CV) CTRL = 918 (72.9%)","Mean expression (CV) MIS = 672 (63.1%)"],"fontSize":19.5,"lineHeight":25,"dx":123,"offset":10},
   "resolve":{"scale":{"xOffset":"independent"},"axis":{"y":"independent"}},
   "layer":[
    {"data":{"name":"c"},"mark":{"type":"bar","strokeWidth":0.5},
     "encoding":{
      "x":{"field":"t","type":"nominal","title":"Transcripts","sort":["MORF4L1-203","MORF4L1-215","MORF4L1-205","MORF4L1-212","MORF4L1-209","MORF4L1-221","MORF4L1-201","MORF4L1-208","MORF4L1-216","MORF4L1-223","MORF4L1-207"],"scale":{"paddingInner":0.1,"paddingOuter":0.15,"round":false},
       "axis":{"labelAngle":-22,"labelAlign":"right","labelBaseline":"top","labelFontSize":15.5,"labelPadding":4,"labelOverlap":false,"labelBound":false,"labelExpr":"replace(datum.label, '-', '−')","labelColor":{"condition":{"test":"indexof(['MORF4L1-203','MORF4L1-215','MORF4L1-216'], datum.value) >= 0","value":"#EE1C1C"},"value":"#8C8C8C"},"grid":true,"bandPosition":0.5,"titleFontSize":19,"titlePadding":7}},
      "xOffset":{"field":"k","type":"ordinal","scale":{"paddingInner":0,"paddingOuter":0,"round":false}},
      "y":{"field":"v","type":"quantitative","title":"Proportions","scale":{"domain":[-0.05,1.05],"nice":false},"axis":{"values":[0,0.25,0.5,0.75,1],"format":".2f","labelFontSize":14,"labelColor":"#4D4D4D","labelPadding":4,"grid":true,"titleFontSize":19,"titlePadding":7}},
      "color":{"field":"c","type":"nominal","scale":{"domain":["CTRL","MIS"],"range":["#0B7147","#E8845A"]},"legend":{"legendX":459,"legendY":8}},
      "stroke":{"field":"c","type":"nominal","scale":{"domain":["CTRL","MIS"],"range":["#0B7147","#E8845A"]},"legend":null}
     }},
    {"data":{"name":"cm"},"mark":{"type":"bar","fill":"transparent","stroke":"#FF1A1A","strokeWidth":2.5},
     "encoding":{
      "x":{"field":"t","type":"nominal","title":"Transcripts","sort":["MORF4L1-203","MORF4L1-215","MORF4L1-205","MORF4L1-212","MORF4L1-209","MORF4L1-221","MORF4L1-201","MORF4L1-208","MORF4L1-216","MORF4L1-223","MORF4L1-207"]},
      "xOffset":{"field":"c","type":"nominal","sort":["CTRL","MIS"],"scale":{"paddingInner":0,"paddingOuter":0,"round":false}},
      "y":{"field":"m","type":"quantitative","axis":{"orient":"right","values":[0.125,0.375,0.625,0.875],"grid":true,"gridWidth":0.6,"labels":false,"ticks":false,"domain":false,"title":null}},
      "y2":{"field":"m"}
     }}
   ]
  }]
 }]
}
]}
]
}
